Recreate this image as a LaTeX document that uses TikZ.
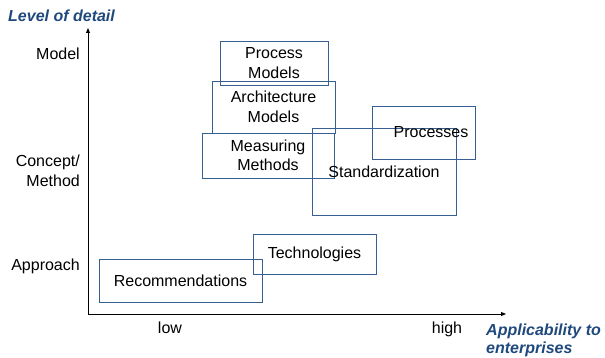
\documentclass[tikz,border=0pt]{standalone}
\usepackage{fontspec}
\setmainfont{Liberation Sans}
\usepackage{tikz}
\usetikzlibrary{arrows.meta,positioning,calc}
\definecolor{boxblue}{RGB}{54,96,146}
\definecolor{titleblue}{RGB}{31,73,125}
\tikzset{
    areabox/.style={draw=boxblue, line width=0.9pt, inner sep=0pt, align=center},
    axislabel/.style={font=\fontsize{16}{18}\selectfont\bfseries\itshape, text=titleblue, inner sep=0pt, align=left},
    scalelabel/.style={inner sep=0pt, align=right}
}

\begin{document}
\begin{tikzpicture}[x=1pt, y=-1pt, font=\fontsize{16}{19.5}\selectfont]
        \useasboundingbox (0,0) rectangle (605,358);
        % axes
        \coordinate (origin) at (88,314);
        \coordinate (ytip) at (88,28);
        \coordinate (xtip) at (506,314);
        \draw[line width=0.9pt, -{Triangle[length=5pt,width=4pt]}] (origin) -- (ytip);
        \draw[line width=0.9pt, -{Triangle[length=5pt,width=4pt]}] (origin) -- (xtip);
        \node[axislabel, anchor=base west] (ytitle) at (8,22) {Level of detail};
        \node[axislabel, anchor=base west] (xtitle) at (486,353) {Applicability to\\enterprises};
        % scale labels
        \node[scalelabel, anchor=base east] (model) at (80,60) {Model};
        \node[scalelabel, anchor=east] (concept) at (80,171) {Concept/\\Method};
        \node[scalelabel, anchor=base east] (approach) at (80,270) {Approach};
        \node[inner sep=0pt, anchor=base] (low) at (170,333) {low};
        \node[inner sep=0pt, anchor=base] (high) at (447,333) {high};
        % areas
        \node[areabox, minimum width=108pt, minimum height=44pt] (procmod) at (274,63) {Process\\Models};
        \node[areabox, minimum width=123pt, minimum height=52pt] (archmod) at (273.5,107) {Architecture\\Models};
        \node[areabox, minimum width=132pt, minimum height=45pt] (measmeth) at (268,155.5) {Measuring\\Methods};
        \node[areabox, minimum width=144pt, minimum height=87pt] (standard) at (384,171.5) {Standardization};
        \node[areabox, minimum width=103pt, minimum height=53pt] (processes) at (423.5,132.5) {\hspace*{15pt}Processes};
        \node[areabox, minimum width=123pt, minimum height=40pt] (techno) at (314.5,254) {Technologies};
        \node[areabox, minimum width=163pt, minimum height=43pt] (recomm) at (180.5,280.5) {Recommendations};
    \end{tikzpicture}
\end{document}
